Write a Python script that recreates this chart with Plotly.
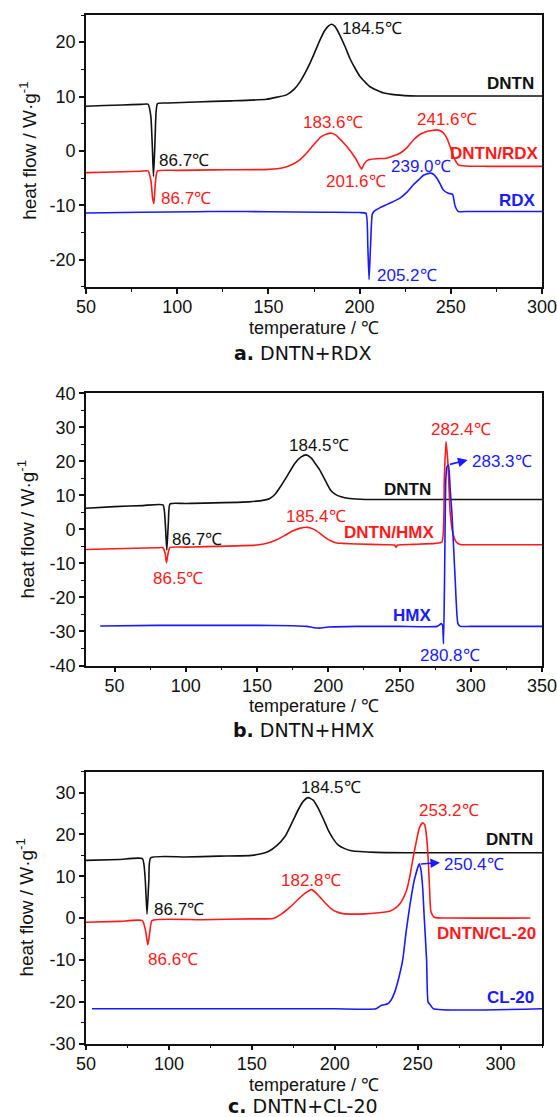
import plotly.graph_objects as go

# ---------------- Panel a: DNTN + RDX ----------------
a_dntn_T = [50, 60, 70, 80, 84, 85.5, 86.4, 87.0, 87.7, 88.4, 89.2, 95, 110, 130, 149, 155, 160, 164, 167.3, 171.9, 175, 178, 181, 183, 184.7, 186.5, 189, 192, 194.7, 197.5, 200.2, 205.7, 212.8, 220, 231.3, 260, 300]
a_dntn_v = [8.2, 8.35, 8.45, 8.55, 8.6, 6.5, 0.5, -4.7, 0.5, 7.0, 8.7, 8.8, 9.0, 9.2, 9.5, 9.9, 10.3, 11.3, 12.7, 15.5, 17.8, 20.2, 22.2, 23.0, 23.3, 22.9, 21.4, 19.2, 17.0, 15.2, 13.7, 11.8, 10.7, 10.3, 10.1, 10.1, 10.1]
a_mix_T = [50, 60, 70, 80, 84, 85.6, 86.5, 87.2, 88.0, 89.2, 100, 120, 150, 158, 163, 167, 171, 175, 179, 182, 184.7, 187, 190, 194, 198, 201.1, 202.5, 204.5, 209, 214.8, 218, 222.1, 226, 229.5, 233, 236.8, 239.5, 242.3, 244.8, 246.8, 248.3, 249.6, 251.8, 254.1, 258, 270, 300]
a_mix_v = [-4.0, -3.95, -3.85, -3.75, -3.7, -5.5, -8.7, -9.7, -6.0, -3.7, -3.6, -3.5, -3.4, -3.1, -2.5, -1.7, -0.4, 1.2, 2.6, 3.1, 3.25, 2.9, 1.9, 0.4, -1.5, -3.37, -2.4, -1.7, -1.45, -1.35, -1.0, -0.43, 0.6, 2.0, 3.0, 3.55, 3.75, 3.86, 3.6, 2.94, 2.0, 0.8, -1.35, -2.57, -2.8, -2.85, -2.85]
a_rdx_T = [50, 80, 110, 126, 150, 180, 200, 203.5, 204.5, 205.2, 206.0, 207.0, 208.4, 211, 214.8, 218, 222.1, 226, 229.5, 232.5, 235, 238.6, 240.5, 242.3, 244, 245.9, 248.6, 251, 252.3, 254.1, 260, 300]
a_rdx_v = [-11.45, -11.3, -11.2, -11.15, -11.2, -11.3, -11.35, -11.5, -17.5, -23.7, -17.5, -11.6, -11.0, -10.5, -9.9, -9.4, -8.7, -7.6, -6.25, -5.3, -4.5, -4.1, -4.3, -5.0, -6.0, -7.2, -7.8, -8.0, -10.1, -11.15, -11.15, -11.15]

# ---------------- Panel b: DNTN + HMX ----------------
b_dntn_T = [30, 50, 70, 84, 85.6, 86.7, 87.8, 89, 100, 144, 155, 159, 163, 166.5, 171, 176.5, 181, 184.5, 188, 191, 194, 198, 201.5, 205, 209, 215, 226, 260, 300, 350]
b_dntn_v = [6.2, 6.7, 7.0, 7.2, 2.0, -6.1, 2.0, 7.5, 7.6, 8.1, 8.6, 9.1, 10.5, 12.6, 15.6, 19.4, 21.3, 21.9, 21.0, 19.3, 17.5, 14.3, 11.6, 10.3, 9.6, 9.1, 8.8, 8.8, 8.8, 8.8]
b_mix_T = [30, 50, 80, 84, 85.5, 86.5, 87.6, 89, 100, 150, 157, 163, 169, 175, 180, 185.5, 190, 194, 198, 202, 206, 210, 220, 240, 246.5, 247.6, 248.6, 260, 275, 279.8, 281.4, 282.6, 284, 285.6, 287.5, 289.8, 292.7, 300, 350]
b_mix_v = [-5.9, -5.7, -5.4, -5.4, -7.0, -9.8, -7.0, -5.3, -5.2, -4.6, -4.1, -3.2, -1.9, -0.5, 0.3, 0.6, 0.0, -1.1, -2.4, -3.4, -4.0, -4.1, -4.3, -4.5, -4.6, -5.3, -4.6, -4.4, -4.1, -3.7, 14.5, 25.8, 19.4, 4.7, -1.2, -3.7, -4.45, -4.5, -4.5]
b_hmx_T = [40, 80, 120, 150, 175, 185, 190, 195, 200, 220, 250, 276.3, 279.3, 280.2, 280.9, 281.6, 282.5, 283.3, 284.4, 285.6, 286.8, 289.1, 291.0, 292.7, 300, 350]
b_hmx_v = [-28.4, -28.2, -28.2, -28.2, -28.3, -28.5, -28.9, -29.0, -28.7, -28.5, -28.5, -28.5, -27.7, -28.2, -33.6, -15.0, 14.5, 18.4, 18.9, 11.5, 4.7, -15.0, -27.7, -28.5, -28.5, -28.5]

# ---------------- Panel c: DNTN + CL-20 ----------------
c_dntn_T = [50, 70, 84, 85.6, 86.8, 87.9, 89, 110, 130, 150, 155, 160, 165, 170, 174, 178, 181, 184, 187, 190, 193, 196, 199, 202, 206, 210, 225, 250, 325]
c_dntn_v = [13.8, 14.0, 14.2, 10.0, 0.95, 9.0, 14.4, 14.6, 14.8, 15.0, 15.3, 15.9, 17.3, 19.5, 22.6, 25.9, 27.9, 28.8, 28.2, 26.3, 23.8, 21.1, 19.0, 17.5, 16.6, 16.1, 15.7, 15.6, 15.6]
c_mix_T = [50, 70, 84, 85.9, 87.3, 88.6, 89.8, 120, 150, 162.8, 168, 173, 178, 182, 186, 189, 192, 195, 198, 201, 205, 210, 218, 225, 233.4, 237, 239.4, 241.5, 243.4, 245.3, 247, 249, 251, 252.9, 254.3, 255.5, 256.5, 257.3, 258, 260, 270, 318]
c_mix_v = [-1.0, -0.8, -0.6, -3.0, -6.4, -3.0, -0.6, -0.4, -0.2, -0.1, 1.0, 2.6, 4.5, 5.9, 6.8, 5.9, 4.6, 3.3, 2.2, 1.5, 1.05, 0.95, 1.0, 1.2, 1.7, 2.5, 3.5, 4.9, 6.7, 10.0, 13.8, 17.9, 21.5, 22.8, 22.3, 19.0, 13.1, 6.0, 1.6, 0.2, 0.0, 0.0]
c_cl20_T = [53.6, 100, 150, 200, 225, 228, 232, 234, 236, 238.5, 241, 243, 245.2, 248, 251, 252, 253, 254, 255.4, 256.3, 257.5, 259.5, 325]
c_cl20_v = [-21.7, -21.7, -21.7, -21.7, -21.7, -20.9, -20.5, -19.6, -17.9, -14.5, -10.0, -3.5, 2.7, 9.1, 13.0, 11.5, 7.5, 0.0, -10.0, -20.1, -20.7, -21.7, -21.7]

# Axis settings per panel
panel_xrange = [[50, 300], [30, 350], [50, 325]]
panel_yrange = [[-25, 25], [-40, 40], [-30, 35]]
x_tickvals = [[50, 100, 150, 200, 250, 300], [50, 100, 150, 200, 250, 300, 350], [50, 100, 150, 200, 250, 300]]
x_ticktext = [["50", "100", "150", "200", "250", "300"], ["50", "100", "150", "200", "250", "300", "350"], ["50", "100", "150", "200", "250", "300"]]
y_tickvals = [[-20, -10, 0, 10, 20], [-40, -30, -20, -10, 0, 10, 20, 30, 40], [-30, -20, -10, 0, 10, 20, 30]]
y_ticktext = [["-20", "-10", "0", "10", "20"], ["-40", "-30", "-20", "-10", "0", "10", "20", "30", "40"], ["-30", "-20", "-10", "0", "10", "20", "30"]]
x_title = "temperature / ℃"
y_title = "heat flow / W·g<sup>-1</sup>"
captions = ["<b>a.</b> DNTN+RDX", "<b>b.</b> DNTN+HMX", "<b>c.</b> DNTN+CL-20"]

# Peak labels: (text, T, value, colour key, xanchor, bold)
labels_a = [("184.5℃", 189.4, 22.6, "k", "left", False), ("DNTN", 296.7, 12.4, "k", "right", True),
            ("86.7℃", 89.1, -1.8, "k", "left", False), ("183.6℃", 185.3, 5.2, "r", "center", False),
            ("241.6℃", 247.7, 5.8, "r", "center", False), ("DNTN/RDX", 298.9, -0.55, "r", "right", True),
            ("201.6℃", 198.1, -5.7, "r", "center", False), ("239.0℃", 233.9, -2.9, "b", "center", False),
            ("86.7℃", 90.0, -8.7, "r", "left", False), ("RDX", 298.0, -9.1, "b", "right", True),
            ("205.2℃", 208.2, -22.9, "b", "left", False)]
labels_b = [("184.5℃", 193.5, 24.8, "k", "center", False), ("DNTN", 273.8, 11.8, "k", "right", True),
            ("86.7℃", 89.1, -2.9, "k", "left", False), ("185.4℃", 191.5, 3.7, "r", "center", False),
            ("DNTN/HMX", 275.8, -1.0, "r", "right", True), ("86.5℃", 94.9, -14.4, "r", "center", False),
            ("282.4℃", 293.5, 29.4, "r", "center", False), ("283.3℃", 299.2, 20.1, "b", "left", False),
            ("HMX", 273.8, -25.4, "b", "right", True), ("280.8℃", 285.6, -37.0, "b", "center", False)]
labels_c = [("184.5℃", 197.6, 31.3, "k", "center", False), ("DNTN", 321.0, 18.7, "k", "right", True),
            ("86.7℃", 89.6, 2.0, "k", "left", False), ("253.2℃", 268.9, 25.7, "r", "center", False),
            ("250.4℃", 264.5, 12.9, "b", "left", False), ("182.8℃", 185.4, 9.0, "r", "center", False),
            ("DNTN/CL-20", 322.5, -3.6, "r", "right", True), ("86.6℃", 102.5, -9.8, "r", "center", False),
            ("CL-20", 321.4, -18.9, "b", "right", True)]
# Arrows: (tail T, tail v, head T, head v)
arrow_b = (284.4, 19.0, 297.8, 20.4)
arrow_c = (251.0, 12.9, 263.5, 13.25)

COL = {"k": "#111111", "r": "#ff1a1a", "b": "#1a1aff"}
FONT = "Liberation Sans, Arial, sans-serif"
TICKFONT = "Liberation Sans Narrow, Arial Narrow, Liberation Sans, sans-serif"
W, H = 557, 1117
XL, XR = 86, 542
tops = [15, 393.3, 771.7]
bots = [286.7, 665.5, 1043.5]
xtitle_y = [328, 706, 1085]
cap_y = [353, 730, 1106]
ytitle_x = [28, 26, 25]

fig = go.Figure()
series = [
    [(a_dntn_T, a_dntn_v, "k"), (a_mix_T, a_mix_v, "r"), (a_rdx_T, a_rdx_v, "b")],
    [(b_dntn_T, b_dntn_v, "k"), (b_mix_T, b_mix_v, "r"), (b_hmx_T, b_hmx_v, "b")],
    [(c_dntn_T, c_dntn_v, "k"), (c_mix_T, c_mix_v, "r"), (c_cl20_T, c_cl20_v, "b")],
]
for i, group in enumerate(series):
    sfx = "" if i == 0 else str(i + 1)
    for T, v, c in group:
        fig.add_trace(go.Scatter(x=T, y=v, mode="lines", xaxis="x" + sfx, yaxis="y" + sfx,
                                 line=dict(color=COL[c], width=1.6, shape="spline", smoothing=0.5),
                                 showlegend=False, hoverinfo="skip"))

layout = dict(width=W, height=H, margin=dict(l=0, r=0, t=0, b=0, autoexpand=False), paper_bgcolor="white",
              plot_bgcolor="white", showlegend=False, font=dict(family=FONT, size=17, color="#111"))
annotations = []
for i in range(3):
    sfx = "" if i == 0 else str(i + 1)
    ax = dict(domain=[XL / W, XR / W], range=panel_xrange[i], anchor="y" + sfx, showgrid=False,
              automargin=False, ticklabeloverflow="allow",
              zeroline=False, showline=True, linecolor="#111", linewidth=1.6, mirror=True,
              ticks="outside", ticklen=5, tickwidth=1.5, tickcolor="#111",
              tickmode="array", tickvals=x_tickvals[i], ticktext=x_ticktext[i],
              ticklabelstandoff=-2, tickfont=dict(size=18, family=TICKFONT, color="#111"),
              minor=dict(ticks="outside", ticklen=3, tickwidth=1.3, tickcolor="#111", dtick=25, tick0=0))
    ay = dict(domain=[1 - bots[i] / H, 1 - tops[i] / H], range=panel_yrange[i], anchor="x" + sfx,
              automargin=False, ticklabeloverflow="allow",
              showgrid=False, zeroline=False, showline=True, linecolor="#111", linewidth=1.6, mirror=True,
              ticks="outside", ticklen=5, tickwidth=1.5, tickcolor="#111",
              tickmode="array", tickvals=y_tickvals[i], ticktext=y_ticktext[i],
              tickfont=dict(size=18, family=TICKFONT, color="#111"),
              minor=dict(ticks="outside", ticklen=3, tickwidth=1.3, tickcolor="#111", dtick=5, tick0=0))
    layout["xaxis" + sfx] = ax
    layout["yaxis" + sfx] = ay
    annotations.append(dict(text=x_title, xref="paper", yref="paper", x=(XL + XR) / 2 / W,
                            y=1 - xtitle_y[i] / H, xanchor="center", yanchor="middle", showarrow=False,
                            font=dict(size=18, family=TICKFONT, color="#111")))
    annotations.append(dict(text=y_title, xref="paper", yref="paper", x=ytitle_x[i] / W,
                            y=1 - (tops[i] + bots[i]) / 2 / H, xanchor="center", yanchor="middle",
                            textangle=-90, showarrow=False, font=dict(size=19, family=TICKFONT, color="#111")))
    annotations.append(dict(text=captions[i], xref="paper", yref="paper", x=303 / W, y=1 - cap_y[i] / H,
                            xanchor="center", yanchor="middle", showarrow=False,
                            font=dict(size=19, family="DejaVu Sans, Noto Sans, sans-serif", color="#111")))

for i, labs in enumerate([labels_a, labels_b, labels_c]):
    sfx = "" if i == 0 else str(i + 1)
    for txt, T, v, c, anc, bold in labs:
        annotations.append(dict(text=("<b>%s</b>" % txt) if bold else txt, x=T, y=v, xref="x" + sfx,
                                yref="y" + sfx, xanchor=anc, yanchor="middle", showarrow=False,
                                font=dict(size=17, family=FONT, color=COL[c])))

for sfx, arr in [("2", arrow_b), ("3", arrow_c)]:
    annotations.append(dict(text="", x=arr[2], y=arr[3], ax=arr[0], ay=arr[1], xref="x" + sfx, yref="y" + sfx,
                            axref="x" + sfx, ayref="y" + sfx, showarrow=True, arrowhead=2, arrowsize=1.2,
                            arrowwidth=1.6, arrowcolor=COL["b"], standoff=0, startstandoff=0))

layout["annotations"] = annotations
fig.update_layout(**layout)
fig.write_html("out.html", config={"displayModeBar": False},
               post_script="document.body.style.margin='0';document.body.style.overflow='hidden';")
